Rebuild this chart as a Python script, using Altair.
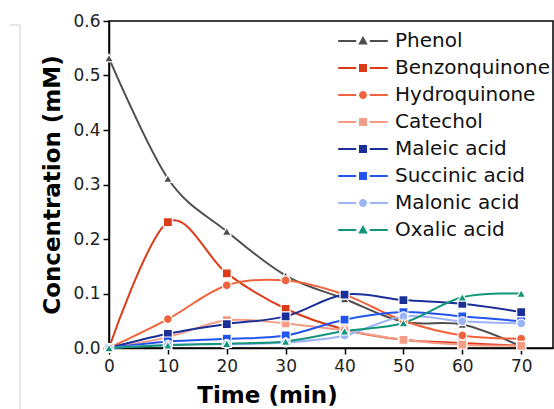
import altair as alt
import pandas as pd

times = [0, 10, 20, 30, 40, 50, 60, 70]
series = ["Phenol", "Benzonquinone", "Hydroquinone", "Catechol",
          "Maleic acid", "Succinic acid", "Malonic acid", "Oxalic acid"]
phenol = [0.532, 0.311, 0.214, 0.133, 0.090, 0.048, 0.043, 0.003]
benzonquinone = [0.0, 0.231, 0.137, 0.072, 0.034, 0.015, 0.009, 0.004]
hydroquinone = [0.0, 0.053, 0.115, 0.124, 0.098, 0.050, 0.023, 0.017]
catechol = [0.0, 0.020, 0.051, 0.045, 0.032, 0.015, 0.006, 0.004]
maleic = [0.0, 0.026, 0.044, 0.058, 0.098, 0.088, 0.081, 0.066]
succinic = [0.0, 0.012, 0.017, 0.023, 0.052, 0.066, 0.058, 0.049]
malonic = [0.0, 0.006, 0.007, 0.010, 0.023, 0.058, 0.049, 0.045]
oxalic = [0.0, 0.005, 0.008, 0.012, 0.031, 0.046, 0.093, 0.100]
colors = ["#4f4f4f", "#dc3b19", "#f0633c", "#f59c86",
          "#1b2f98", "#2255ee", "#9ab4f7", "#12967a"]
shapes = ["triangle-up", "square", "circle", "square",
          "square", "square", "circle", "triangle-up"]

all_vals = [phenol, benzonquinone, hydroquinone, catechol, maleic, succinic, malonic, oxalic]
rows = []
for i, (name, vals) in enumerate(zip(series, all_vals)):
    for t, v in zip(times, vals):
        rows.append({"series": name, "order": i, "time": t, "conc": v})
df = pd.DataFrame(rows)

# legend symbols: line segments with a gap + marker
seg = "M-6.2,-0.28 L-1.7,-0.28 L-1.7,0.28 L-6.2,0.28 Z M1.7,-0.28 L6.2,-0.28 L6.2,0.28 L1.7,0.28 Z "
tri = seg + "M0,-1.25 L1.2,0.9 L-1.2,0.9 Z"
sq = seg + "M-1,-1 L1,-1 L1,1 L-1,1 Z"
circ = seg + "M1,0 A1,1 0 1,1 -1,0 A1,1 0 1,1 1,0 Z"
legend_shapes = [tri, sq, circ, sq, sq, sq, circ, tri]

x_scale = alt.Scale(domain=[0, 75.4], nice=False, zero=False)
y_scale = alt.Scale(domain=[0, 0.6], nice=False)
color_scale = alt.Scale(domain=series, range=colors)

major_x = "abs(datum.value % 10) < 0.001"
major_y = "abs(round(datum.value*10) - datum.value*10) < 0.001"

x_enc = alt.X("time:Q", scale=x_scale, title="Time (min)",
              axis=alt.Axis(values=list(range(0, 76, 5)),
                            labelExpr=f"{major_x} ? datum.value : ''",
                            tickSize={"condition": {"test": major_x, "value": 6}, "value": 3},
                            grid=False, labelPadding=4, titleX=158, titleY=54,
                            titleBaseline="alphabetic", titleAnchor="start", titleAlign="center"))
y_vals = [0, 0.05, 0.1, 0.15, 0.2, 0.25, 0.3, 0.35, 0.4, 0.45, 0.5, 0.55, 0.6]
y_enc = alt.Y("conc:Q", scale=y_scale, title="Concentration (mM)",
              axis=alt.Axis(values=y_vals,
                            labelExpr=f"{major_y} ? format(datum.value, '.1f') : ''",
                            tickSize={"condition": {"test": major_y, "value": 6}, "value": 3},
                            grid=False, labelPadding=3, titlePadding=8))

base = alt.Chart(df)

lines = base.mark_line(interpolate="cardinal", strokeWidth=2).encode(
    x=x_enc, y=y_enc,
    color=alt.Color("series:N", scale=color_scale, legend=None),
    detail="series:N",
    order=alt.Order("order:Q"),
)

points = base.mark_point(filled=True, size=80, stroke="white", strokeWidth=1.2, opacity=1).encode(
    x=alt.X("time:Q", scale=x_scale),
    y=alt.Y("conc:Q", scale=y_scale),
    color=alt.Color("series:N", scale=color_scale, legend=None),
    shape=alt.Shape("series:N", scale=alt.Scale(domain=series, range=shapes), legend=None),
)

leg = dict(title=None, orient="none", legendX=244, legendY=10,
           symbolSize=64, symbolStrokeWidth=0,
           labelFontSize=20, labelOffset=22, rowPadding=7, labelLimit=0,
           padding=0, symbolOpacity=1, labelColor="#111111")

legend_layer = base.transform_filter("false").mark_point(filled=True, opacity=1).encode(
    x=alt.X("time:Q", scale=x_scale),
    y=alt.Y("conc:Q", scale=y_scale),
    color=alt.Color("series:N", scale=alt.Scale(domain=series, range=colors),
                    legend=alt.Legend(**leg)),
    shape=alt.Shape("series:N", scale=alt.Scale(domain=series, range=legend_shapes),
                    legend=alt.Legend(**leg)),
)

artifact = alt.Chart(pd.DataFrame({"a": [0]})).mark_rule(color="#cccccc", strokeWidth=1).encode(
    x=alt.value(-89), y=alt.value(4), y2=alt.value(388)
)
artifact2 = alt.Chart(pd.DataFrame({"a": [0]})).mark_rule(color="#cccccc", strokeWidth=1).encode(
    x=alt.value(-99), x2=alt.value(-89), y=alt.value(4)
)

chart = alt.layer(artifact, artifact2, lines, points, legend_layer).resolve_scale(
    color="independent", shape="independent"
).properties(
    width=444, height=327,
    autosize=alt.AutoSizeParams(type="none"),
    padding={"left": 109, "top": 21, "right": 1, "bottom": 61},
).configure(font="DejaVu Sans").configure_view(
    stroke="black", strokeWidth=1.5
).configure_axis(
    domainColor="black", domainWidth=1.5, tickColor="black", tickWidth=1.5,
    labelFontSize=17, labelColor="#222222", labelFont="DejaVu Sans",
    titleFontSize=23, titleFontWeight="bold", titleColor="black", titleFont="DejaVu Sans",
    labelFlush=False, labelOverlap=False,
)

chart.save("out.html", embed_options={"renderer": "svg", "actions": False})
